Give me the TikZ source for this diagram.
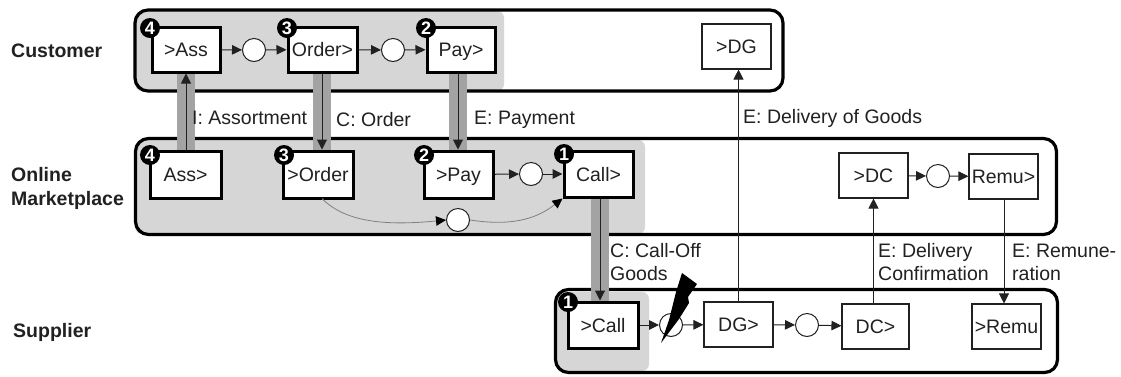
\documentclass[tikz,border=0pt]{standalone}
\usepackage{fontspec}
\setmainfont{Liberation Sans}
\usetikzlibrary{arrows.meta,calc}
\definecolor{zone}{gray}{0.84}
\definecolor{flowgray}{gray}{0.64}
\definecolor{ink}{gray}{0.13}
\tikzset{
 x=1pt,y=-1pt,
 lane/.style={draw=black,line width=3.2pt,rounded corners=13pt},
 zonebox/.style={fill=zone,draw=none,rounded corners=7pt},
 thinbox/.style={draw=ink,line width=1.1pt,fill=white,inner sep=0pt,font=\fontsize{19.5}{22}\selectfont,text=ink,text height=14pt,text depth=0pt},
 thickbox/.style={draw=black,line width=3pt,fill=white,inner sep=0pt,font=\fontsize{19.5}{22}\selectfont,text=ink,text height=14pt,text depth=0pt},
 gate/.style={circle,draw=ink,line width=1pt,fill=white,minimum size=23pt,inner sep=0pt},
 badge/.style={circle,fill=black,text=white,minimum size=20pt,inner sep=0pt,font=\bfseries\fontsize{18}{18}\selectfont},
 flowband/.style={draw=flowgray,line width=18pt},
 flow/.style={draw=ink,line width=1pt,-{Triangle[length=10pt,width=9.5pt]}},
 thinflow/.style={draw=gray,line width=0.8pt},
 headtip/.style={draw=ink,line width=1pt,-{Triangle[length=10pt,width=10pt]}},
 lbl/.style={font=\fontsize{19.5}{23}\selectfont,text=ink,anchor=west,align=left,inner sep=0pt},
 rolelbl/.style={font=\bfseries\fontsize{19.5}{24}\selectfont,text=ink,anchor=west,align=left,inner sep=0pt},
}
\begin{document}
\begin{tikzpicture}
\useasboundingbox (0,0) rectangle (1121,376);
\fill[white] (0,0) rectangle (1121,376);
% zones
\fill[zonebox] (135,11) rectangle (504,91);
\fill[zonebox] (135,140) rectangle (645,234);
\fill[zonebox] (556,292) rectangle (649,371);
% lanes
\node[lane,minimum width=648pt,minimum height=81pt] (lanec) at (459,50.5) {};
\node[lane,minimum width=921pt,minimum height=96pt] (lanem) at (596,186.5) {};
\node[lane,minimum width=502pt,minimum height=83pt] (lanes) at (806.5,331) {};
% bands
\coordinate (ba1) at (186,72); \coordinate (ba2) at (186,151);
\coordinate (bb1) at (322,72); \coordinate (bb2) at (322,151);
\coordinate (bc1) at (458,72); \coordinate (bc2) at (458,151);
\coordinate (bd1) at (600,197); \coordinate (bd2) at (600,302);
\draw[flowband] (ba1) -- (ba2);
\draw[flowband] (bb1) -- (bb2);
\draw[flowband] (bc1) -- (bc2);
\draw[flowband] (bd1) -- (bd2);
% customer
\node[thickbox,minimum width=68pt,minimum height=45pt] (cAss) at (186,49.5) {>Ass};
\node[thickbox,minimum width=69pt,minimum height=45pt] (cOrder) at (322.5,49.5) {Order>};
\node[thickbox,minimum width=68pt,minimum height=45pt] (cPay) at (461,49.5) {Pay>};
\node[gate] (c1) at (254,50) {};
\node[gate] (c2) at (393,50) {};
\node[thinbox,minimum width=69pt,minimum height=45pt] (cDG) at (736.5,46.5) {>DG};
% marketplace
\node[thickbox,minimum width=71pt,minimum height=47pt] (mAss) at (185.5,174.5) {Ass>};
\node[thickbox,minimum width=70pt,minimum height=47pt] (mOrder) at (318,174.5) {>Order};
\node[thickbox,minimum width=69pt,minimum height=47pt] (mPay) at (458.5,174.5) {>Pay};
\node[thickbox,minimum width=69pt,minimum height=46pt] (mCall) at (598.5,174) {Call>};
\node[gate] (m1) at (531,174) {};
\node[gate] (m2) at (458,220) {};
\node[thinbox,minimum width=69pt,minimum height=45pt] (mDC) at (873.5,175.5) {>DC};
\node[gate] (m3) at (938,176) {};
\node[thinbox,minimum width=69pt,minimum height=45pt] (mRemu) at (1003.5,176.5) {Remu>};
% supplier
\node[thickbox,minimum width=70pt,minimum height=46pt] (sCall) at (603,325) {>Call};
\node[gate] (s1) at (671,325) {};
\node[thinbox,minimum width=69pt,minimum height=45pt] (sDG) at (738.5,324.5) {DG>};
\node[gate] (s2) at (807,325) {};
\node[thinbox,minimum width=67pt,minimum height=45pt] (sDC) at (875.5,326.5) {DC>};
\node[thinbox,minimum width=69pt,minimum height=45pt] (sRemu) at (1006.5,326.5) {>Remu};
% sequence flows
\draw[flow] (cAss) -- (c1);
\draw[flow] (c1) -- (cOrder);
\draw[flow] (cOrder) -- (c2);
\draw[flow] (c2) -- (cPay);
\draw[flow] (mPay) -- (m1);
\draw[flow] (m1) -- (mCall);
\draw[flow] (mDC) -- (m3);
\draw[flow] (m3) -- (mRemu);
\draw[flow] (sCall) -- (s1);
\draw[flow] (s1) -- (sDG);
\draw[flow] (sDG) -- (s2);
\draw[flow] (s2) -- (sDC);
\draw[thinflow,-{Triangle[length=10pt,width=9.5pt,color=black]}] (322,198.5) .. controls (345,222) and (385,226) .. (m2.west);
\draw[thinflow,-{Triangle[length=10pt,width=9.5pt,color=black]}] (m2.east) .. controls (510,226) and (535,220) .. (mCall.south west);
% message flows
\draw[headtip] (mAss.north -| ba1) -- (cAss.south -| ba1);
\draw[headtip] (cOrder.south -| bb1) -- (mOrder.north -| bb1);
\draw[headtip] (cPay.south -| bc1) -- (mPay.north -| bc1);
\draw[headtip] (mCall.south -| bd1) -- (sCall.north -| bd1);
\draw[headtip] (sDG.north) -- (sDG.north |- cDG.south);
\draw[headtip] (sDC.north -| mDC) -- (mDC.south);
\coordinate (rx) at (1004,0);
\draw[headtip] (mRemu.south -| rx) -- (sRemu.north -| rx);
% bolt
\fill[black] (682,273) -- (697,284) -- (688,297) -- (689,303) -- (679,319) -- (661,343) -- (669,320) -- (673,304) -- (676,292) -- cycle;
% badges
\node[badge] (b1) at (150,28) {4};
\node[badge] (b2) at (287,28) {3};
\node[badge] (b3) at (426,28) {2};
\node[badge] (b4) at (150,155) {4};
\node[badge] (b5) at (284,155) {3};
\node[badge] (b6) at (424,155) {2};
\node[badge] (b7) at (564,154) {1};
\node[badge] (b8) at (568,302) {1};
% labels
\node[rolelbl] (t1) at (11,51) {Customer};
\node[rolelbl] (t2) at (11,188) {Online\\Marketplace};
\node[rolelbl] (t3) at (13,332) {Supplier};
\node[lbl] (l1) at (192,118) {I: Assortment};
\node[lbl] (l2) at (336,120) {C: Order};
\node[lbl] (l3) at (474,120) {E: Payment};
\node[lbl] (l4) at (743,118.5) {E: Delivery of Goods};
\node[lbl] (l5) at (610,262) {C: Call-Off\\Goods};
\node[lbl] (l6) at (878,262) {E: Delivery\\Confirmation};
\node[lbl] (l7) at (1012,262) {E: Remune-\\ration};
\end{tikzpicture}
\end{document}
